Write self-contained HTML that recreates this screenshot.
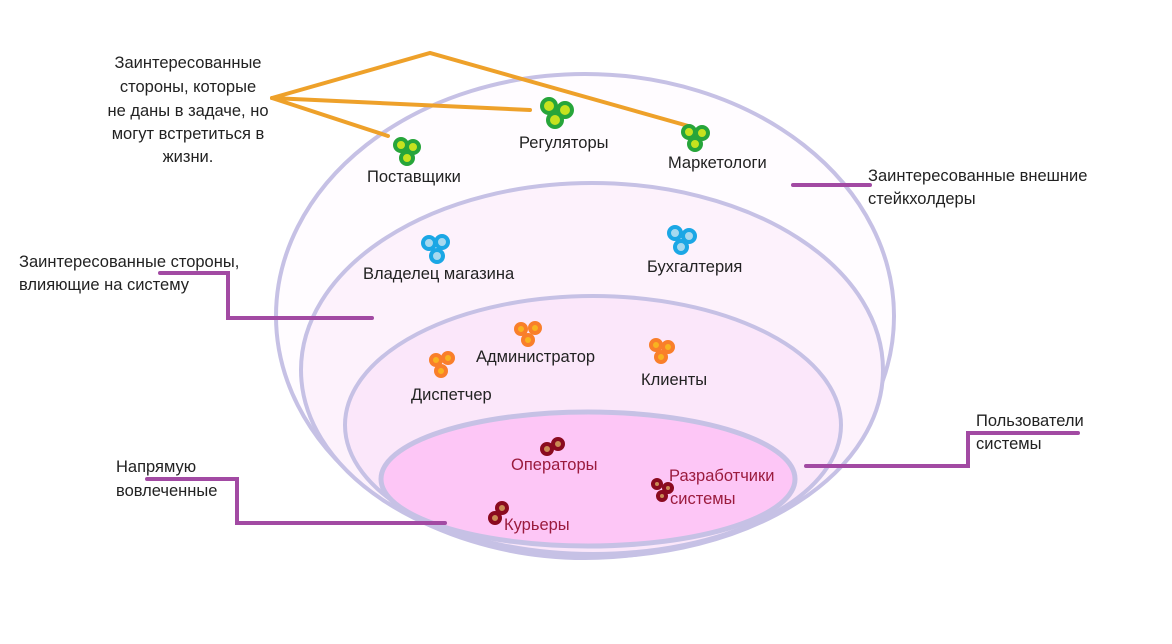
<!DOCTYPE html>
<html><head><meta charset="utf-8"><style>
html,body{margin:0;padding:0;background:#fff;}
svg{display:block;}
text{font-family:"Liberation Sans","DejaVu Sans",sans-serif;font-size:16.5px;fill:#222;}
.dk{fill:#9b1b3e;}
.c{text-anchor:middle;}
</style></head><body>
<svg width="1172" height="644" viewBox="0 0 1172 644">
<g>
<ellipse cx="585" cy="316" rx="309" ry="242" fill="#fffcff" stroke="#c6c1e5" stroke-width="4"/></g>
<g>
<ellipse cx="592" cy="370" rx="291" ry="187" fill="#fdf2fc" stroke="#c6c1e5" stroke-width="4"/></g>
<g>
<ellipse cx="593" cy="425" rx="248" ry="129" fill="#fbe7fa" stroke="#c6c1e5" stroke-width="4"/></g>
<g>
<ellipse cx="588" cy="479" rx="207" ry="67" fill="#fdc6f6" stroke="#c6c1e5" stroke-width="5"/></g>

<g fill="none" stroke="#eea12a" stroke-width="4" stroke-linecap="round">
<polyline points="272,98 430,53 692,127"/>
<line x1="272" y1="98" x2="530" y2="110"/>
<line x1="272" y1="98" x2="388" y2="136"/>
</g>
<g fill="none" stroke="#a24aa3" stroke-width="4" stroke-linecap="round">
<line x1="793" y1="185" x2="870" y2="185"/>
<polyline points="160,273 228,273 228,318 372,318"/>
<polyline points="806,466 968,466 968,433 1078,433"/>
<polyline points="147,479 237,479 237,523 445,523"/>
</g>

<g>
<g fill="#c6e21f" stroke="#27a53a" stroke-width="4">
<circle cx="549" cy="106" r="7"/><circle cx="565" cy="110" r="7"/><circle cx="555" cy="120" r="7"/>
<circle cx="401" cy="145" r="6"/><circle cx="413" cy="147" r="6"/><circle cx="407" cy="158" r="6"/>
<circle cx="689" cy="132" r="6"/><circle cx="702" cy="133" r="6"/><circle cx="695" cy="144" r="6"/>
</g>
<g fill="#a6d9ef" stroke="#1ba7e5" stroke-width="4">
<circle cx="429" cy="243" r="6"/><circle cx="442" cy="242" r="6"/><circle cx="437" cy="256" r="6"/>
<circle cx="675" cy="233" r="6"/><circle cx="689" cy="236" r="6"/><circle cx="681" cy="247" r="6"/>
</g>
<g fill="#f8b320" stroke="#f97f2a" stroke-width="4">
<circle cx="521" cy="329" r="5"/><circle cx="535" cy="328" r="5"/><circle cx="528" cy="340" r="5"/>
<circle cx="436" cy="360" r="5"/><circle cx="448" cy="358" r="5"/><circle cx="441" cy="371" r="5"/>
<circle cx="656" cy="345" r="5"/><circle cx="668" cy="347" r="5"/><circle cx="661" cy="357" r="5"/>
</g>
<g fill="#c98a54" stroke="#8a0a1f" stroke-width="4">
<circle cx="547" cy="449" r="5"/><circle cx="558" cy="444" r="5"/>
<circle cx="495" cy="518" r="5"/><circle cx="502" cy="508" r="5"/>
<circle cx="657" cy="484" r="4"/><circle cx="668" cy="488" r="4"/><circle cx="662" cy="496" r="4"/>
</g>
</g>

<g>
<text class="c" x="188" y="68">Заинтересованные</text>
<text class="c" x="188" y="92">стороны, которые</text>
<text class="c" x="188" y="116">не даны в задаче, но</text>
<text class="c" x="188" y="139">могут встретиться в</text>
<text class="c" x="188" y="162">жизни.</text>
<text x="519" y="148">Регуляторы</text>
<text x="367" y="182">Поставщики</text>
<text x="668" y="168">Маркетологи</text>
<text x="868" y="181">Заинтересованные внешние</text>
<text x="868" y="204">стейкхолдеры</text>
<text x="19" y="267">Заинтересованные стороны,</text>
<text x="19" y="290">влияющие на систему</text>
<text x="363" y="279">Владелец магазина</text>
<text x="647" y="272">Бухгалтерия</text>
<text x="476" y="362">Администратор</text>
<text x="641" y="385">Клиенты</text>
<text x="411" y="400">Диспетчер</text>
<text x="976" y="426">Пользователи</text>
<text x="976" y="449">системы</text>
<text x="116" y="472">Напрямую</text>
<text x="116" y="496">вовлеченные</text>
<text class="dk" x="511" y="470">Операторы</text>
<text class="dk" x="669" y="481">Разработчики</text>
<text class="dk" x="670" y="504">системы</text>
<text class="dk" x="504" y="530">Курьеры</text>
</g>
</svg>
</body></html>
